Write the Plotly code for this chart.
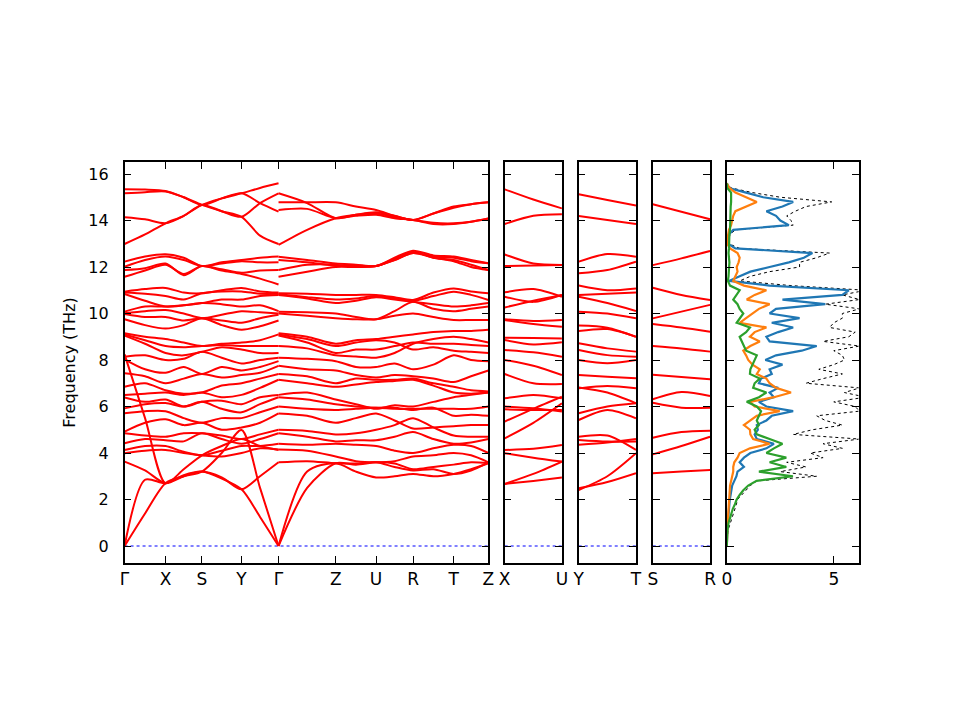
import plotly.graph_objects as go

# ---------------- data ----------------
kpos_main = [0, 41.3, 78, 118, 155.3, 213, 253.7, 291, 332, 367]
klabels_main = ["Γ", "X", "S", "Y", "Γ", "Z", "U", "R", "T", "Z"]

# piece A: Γ-X-S-Y-Γ  (values at Γ, mid, X, mid, S, mid, Y, mid, Γ)
bands_A = [
    [15.34, 15.33, 15.27, 15.0, 14.67, 14.95, 15.17, 15.4, 15.6],
    [15.17, 15.22, 15.25, 15.0, 14.67, 14.4, 14.16, 14.75, 15.17],
    [14.14, 14.05, 13.88, 14.2, 14.67, 14.95, 15.17, 14.75, 14.38],
    [12.99, 13.4, 13.88, 14.2, 14.67, 14.4, 14.16, 13.35, 12.99],
    [12.23, 12.45, 12.55, 12.4, 12.04, 12.2, 12.3, 12.4, 12.45],
    [12.01, 12.3, 12.45, 12.3, 12.04, 12.15, 12.25, 12.2, 12.2],
    [11.58, 11.85, 12.1, 11.7, 12.04, 11.9, 11.75, 11.85, 11.87],
    [11.87, 11.95, 12.15, 11.65, 12.04, 11.85, 11.7, 11.5, 11.25],
    [10.94, 11.05, 11.1, 10.9, 10.87, 11.0, 11.1, 10.95, 10.9],
    [10.90, 10.85, 10.75, 10.6, 10.87, 10.95, 10.95, 10.85, 10.85],
    [10.84, 10.55, 10.3, 10.35, 10.45, 10.6, 10.6, 10.75, 10.8],
    [10.08, 10.3, 10.3, 10.35, 10.45, 10.4, 10.3, 10.35, 10.1],
    [10.01, 10.1, 10.15, 10.0, 9.8, 9.95, 10.1, 10.05, 10.0],
    [9.98, 9.85, 9.85, 9.7, 9.8, 9.7, 9.6, 9.8, 9.95],
    [9.75, 9.5, 9.35, 9.5, 9.8, 9.5, 9.3, 9.45, 9.7],
    [9.15, 9.0, 8.9, 8.75, 8.6, 8.7, 8.75, 8.85, 9.1],
    [9.10, 8.85, 8.6, 8.55, 8.6, 8.65, 8.6, 8.6, 8.6],
    [9.05, 8.7, 8.3, 8.2, 8.35, 8.55, 8.45, 8.3, 8.3],
    [8.14, 8.2, 8.0, 8.05, 8.35, 8.1, 7.85, 8.0, 8.1],
    [8.03, 7.6, 7.45, 7.7, 7.4, 7.7, 7.55, 7.7, 7.95],
    [7.43, 7.3, 7.0, 7.2, 7.4, 7.25, 7.35, 7.45, 7.75],
    [6.85, 7.0, 6.7, 6.55, 6.6, 6.9, 7.0, 7.2, 7.4],
    [6.49, 6.55, 6.6, 6.5, 6.6, 6.4, 6.5, 6.8, 7.15],
    [6.39, 6.2, 6.3, 6.0, 6.2, 6.25, 6.1, 6.4, 6.5],
    [5.92, 6.1, 6.15, 6.0, 6.2, 5.9, 5.75, 6.1, 6.4],
    [5.71, 5.8, 5.8, 5.5, 5.3, 5.5, 5.5, 5.75, 6.0],
    [4.92, 5.3, 5.45, 5.2, 5.3, 5.0, 5.1, 5.3, 5.7],
    [4.85, 4.75, 4.7, 4.85, 4.85, 4.75, 4.6, 4.8, 5.0],
    [4.42, 4.6, 4.55, 4.5, 4.85, 4.6, 4.4, 4.6, 4.85],
    [4.13, 4.3, 4.3, 4.05, 3.9, 4.1, 4.3, 4.3, 4.4],
    [3.99, 4.1, 4.13, 4.0, 3.9, 3.85, 4.0, 4.2, 4.15],
    [3.63, 3.25, 2.70, 3.0, 3.2, 2.95, 2.44, 3.0, 3.6],
    [0.0, 2.85, 2.70, 3.05, 3.2, 2.9, 2.44, 1.25, 0.0],
    [0.0, 1.4, 2.70, 3.0, 3.2, 4.0, 4.99, 2.5, 0.0],
    [8.24, 5.5, 2.70, 3.3, 3.9, 4.3, 4.6, 4.3, 4.13],
]

# piece B: Γ-Z-U-R-T-Z  (values at Γ, mid, Z, mid, U, mid, R, mid, T, mid, Z)
bands_B = [
    [14.78, 14.78, 14.78, 14.6, 14.45, 14.2, 14.02, 14.3, 14.6, 14.7, 14.78],
    [15.17, 14.75, 14.1, 14.25, 14.3, 14.15, 14.02, 13.9, 13.88, 13.95, 14.09],
    [14.45, 14.5, 14.1, 14.2, 14.25, 14.1, 14.02, 13.85, 13.85, 13.95, 14.09],
    [12.95, 13.6, 14.1, 14.25, 14.35, 14.2, 14.02, 14.3, 14.55, 14.7, 14.78],
    [12.44, 12.3, 12.15, 12.1, 12.04, 12.4, 12.7, 12.5, 12.45, 12.3, 12.16],
    [12.3, 12.2, 12.05, 12.05, 12.04, 12.35, 12.65, 12.4, 12.3, 12.1, 11.87],
    [11.87, 12.1, 12.1, 12.0, 12.04, 12.3, 12.6, 12.45, 12.4, 12.25, 12.16],
    [11.58, 11.8, 12.0, 12.0, 12.04, 12.3, 12.6, 12.4, 12.25, 12.0, 11.87],
    [10.87, 10.85, 10.8, 10.8, 10.8, 10.7, 10.58, 10.9, 11.08, 10.95, 10.87],
    [10.84, 10.7, 10.6, 10.65, 10.75, 10.65, 10.55, 10.75, 10.94, 10.8, 10.58],
    [10.8, 10.65, 10.45, 10.55, 10.7, 10.6, 10.5, 10.4, 10.3, 10.35, 10.45],
    [10.08, 10.05, 10.0, 9.85, 9.75, 10.1, 10.5, 10.2, 10.1, 10.2, 10.3],
    [10.0, 9.9, 9.8, 9.75, 9.75, 9.9, 10.0, 9.85, 9.72, 9.72, 9.72],
    [9.15, 9.0, 8.7, 8.85, 8.9, 9.0, 9.1, 9.2, 9.25, 9.25, 9.3],
    [9.1, 8.9, 8.6, 8.75, 8.85, 8.75, 8.45, 8.55, 8.4, 8.35, 8.3],
    [9.05, 8.75, 8.3, 8.45, 8.45, 8.6, 8.75, 8.7, 8.7, 8.65, 8.6],
    [8.6, 8.5, 8.2, 8.15, 8.1, 8.3, 8.7, 8.9, 9.0, 8.9, 8.75],
    [8.1, 8.05, 7.95, 7.7, 7.7, 7.85, 7.6, 7.8, 8.2, 8.0, 7.95],
    [7.75, 7.6, 7.55, 7.35, 7.25, 7.35, 7.3, 7.2, 7.05, 7.3, 7.55],
    [7.4, 7.3, 7.0, 7.2, 7.15, 7.15, 7.2, 7.0, 6.85, 6.7, 6.65],
    [7.15, 7.0, 6.85, 6.95, 7.05, 7.1, 7.15, 6.9, 6.6, 6.55, 6.6],
    [6.5, 6.6, 6.3, 6.1, 5.9, 6.05, 6.0, 6.2, 6.4, 6.5, 6.6],
    [6.4, 6.3, 6.1, 6.0, 5.95, 5.95, 5.85, 5.95, 5.6, 5.65, 5.6],
    [6.0, 5.9, 5.85, 5.9, 5.95, 5.9, 5.9, 5.9, 5.9, 5.9, 6.0],
    [5.7, 5.6, 5.3, 5.5, 5.7, 5.4, 5.05, 5.1, 5.15, 5.2, 5.2],
    [5.0, 4.95, 4.8, 4.85, 5.0, 5.2, 5.5, 5.1, 4.75, 4.7, 4.7],
    [4.85, 4.7, 4.5, 4.55, 4.55, 4.7, 4.9, 4.6, 4.4, 4.45, 4.6],
    [4.4, 4.35, 4.4, 4.35, 4.3, 4.1, 4.0, 4.2, 4.35, 4.3, 4.0],
    [4.15, 4.1, 3.85, 3.65, 3.6, 3.65, 3.85, 3.9, 4.0, 3.9, 3.6],
    [3.6, 3.65, 3.56, 3.55, 3.6, 3.4, 3.25, 3.3, 3.1, 3.25, 3.6],
    [0.0, 3.2, 3.56, 3.2, 2.95, 3.0, 3.1, 3.0, 3.1, 3.3, 3.56],
    [0.0, 2.5, 3.56, 3.5, 3.6, 3.55, 3.3, 3.4, 3.5, 3.6, 3.56],
]

# side panels (values at start, middle, end)
klabels_XU = ["X", "U"]
bands_XU = [
    [15.34, 14.9, 14.52], [13.85, 14.2, 14.27], [12.54, 12.15, 12.09],
    [12.04, 12.06, 12.09], [10.91, 11.05, 10.72], [10.72, 10.5, 10.8],
    [10.26, 10.55, 10.8], [9.75, 9.68, 9.72], [9.72, 9.55, 9.43],
    [8.96, 8.95, 8.93], [8.86, 8.67, 8.76], [8.43, 8.33, 8.14],
    [8.0, 7.75, 7.35], [7.4, 7.0, 6.97], [6.35, 6.5, 6.35],
    [6.0, 5.92, 5.78], [5.88, 5.85, 5.85], [5.35, 5.9, 6.42],
    [4.63, 5.3, 6.14], [4.13, 4.18, 4.34], [3.99, 3.8, 3.63],
    [2.67, 2.8, 2.95], [2.67, 3.1, 3.63],
]
klabels_YT = ["Y", "T"]
bands_YT = [
    [15.13, 14.88, 14.64], [14.19, 14.02, 13.85], [12.23, 12.56, 12.44],
    [11.73, 11.87, 12.23], [11.2, 11.0, 11.08], [10.8, 10.85, 10.9],
    [10.72, 10.45, 10.11], [10.08, 10.0, 9.79], [9.48, 9.39, 9.0],
    [9.25, 9.33, 9.0], [8.72, 8.5, 8.36], [8.43, 8.21, 8.14],
    [8.0, 7.86, 8.0], [7.35, 7.28, 7.21], [6.78, 6.88, 6.78],
    [6.82, 6.6, 6.14], [5.71, 6.0, 6.14], [5.42, 5.85, 5.49],
    [4.7, 4.75, 4.13], [4.56, 4.49, 4.49], [4.35, 4.45, 4.6],
    [2.41, 3.0, 3.99], [2.48, 2.75, 3.13],
]
klabels_SR = ["S", "R"]
bands_SR = [
    [14.70, 14.38, 14.05], [12.08, 12.37, 12.69], [11.11, 10.8, 10.58],
    [9.79, 10.08, 10.37], [9.55, 9.4, 9.22], [8.6, 8.5, 8.36],
    [7.37, 7.27, 7.17], [6.31, 6.62, 6.45], [6.16, 5.95, 5.95],
    [4.66, 4.9, 4.96], [3.94, 4.3, 4.70], [3.13, 3.2, 3.27],
]

# DOS (frequency grid in THz)
dos_freq = [round(0.2 * i, 1) for i in range(79)]
dos_total = [0, 0.01, 0.02, 0.05, 0.1, 0.17, 0.25, 0.32, 0.4, 0.45, 0.5, 0.7,
             0.9, 1.1, 1.4, 4.2, 2.5, 3.7, 2.8, 4.5, 3.9, 5.4, 4.5, 6.2, 3.1, 4.0,
             5.4, 4.6, 4.2, 6.2, 6.0, 5.0, 6.5, 5.5, 6.2, 3.7, 4.5, 5.4, 4.3, 5.0,
             5.5, 5.4, 5.0, 6.2, 4.5, 5.7, 6.0, 4.8, 5.0, 5.4, 5.4, 6.2, 4.6, 6.2,
             5.4, 6.5, 3.0, 0.6, 1.1, 2.0, 3.4, 3.4, 4.2, 4.8, 0.6, 0.1, 0.1, 0.15,
             0.4, 3.1, 3.0, 2.8, 3.2, 3.7, 4.9, 2.5, 1.2, 0.2, 0]
dos_blue = [0, 0.0, 0.01, 0.02, 0.03, 0.05, 0.06, 0.08, 0.1, 0.12, 0.14, 0.17,
            0.2, 0.25, 0.35, 0.45, 0.5, 0.8, 0.6, 0.8, 1.1, 1.85, 2.2, 1.4, 1.3, 1.45,
            1.4, 1.85, 2.1, 3.1, 1.85, 1.5, 2.2, 2.0, 2.4, 1.5, 1.6, 2.1, 2.0, 2.6,
            1.8, 2.3, 3.5, 4.2, 2.0, 1.85, 2.4, 3.1, 2.1, 3.4, 2.0, 2.3, 4.6, 2.6,
            5.4, 5.7, 2.0, 0.1, 0.6, 1.1, 2.0, 2.9, 3.6, 4.0, 0.4, 0.05, 0.05, 0.1,
            0.3, 2.9, 2.5, 2.3, 1.85, 2.6, 3.1, 1.7, 0.9, 0.1, 0]
dos_orange = [0, 0.0, 0.01, 0.02, 0.03, 0.04, 0.05, 0.06, 0.07, 0.08, 0.09, 0.1,
              0.12, 0.15, 0.2, 0.25, 0.3, 0.3, 0.35, 0.5, 0.6, 1.08, 2.0, 1.23, 1.1,
              1.08, 0.8, 1.1, 1.4, 2.47, 1.3, 1.08, 2.2, 3.0, 2.3, 2.0, 1.85, 1.4,
              1.54, 1.2, 1.0, 0.9, 0.77, 1.1, 1.54, 1.08, 1.3, 1.85, 0.6, 0.9, 1.2,
              1.5, 2.0, 0.93, 1.3, 1.85, 0.8, 0.3, 0.4, 0.5, 0.46, 0.55, 0.6, 0.5,
              0.15, 0.02, 0.03, 0.05, 0.1, 0.2, 0.25, 0.3, 0.4, 0.9, 1.4, 0.9, 0.4,
              0.12, 0]
dos_green = [0, 0.0, 0.0, 0.02, 0.05, 0.08, 0.15, 0.2, 0.28, 0.38, 0.46, 0.6,
             0.77, 1.0, 1.39, 3.09, 1.5, 2.78, 2.0, 2.78, 1.85, 2.2, 2.6, 2.0, 1.4,
             1.3, 1.5, 1.4, 1.5, 1.6, 1.4, 0.93, 1.5, 1.85, 1.23, 1.3, 1.54, 1.08,
             1.1, 1.2, 1.3, 1.4, 0.9, 0.8, 0.7, 0.6, 0.9, 1.08, 0.46, 0.6, 0.77,
             0.6, 0.5, 0.3, 0.45, 0.6, 0.15, 0.05, 0.08, 0.1, 0.1, 0.12, 0.1, 0.08,
             0.1, 0.1, 0.12, 0.12, 0.15, 0.15, 0.15, 0.15, 0.18, 0.18, 0.2, 0.2,
             0.2, 0.02, 0]

freq_ticks = [0, 2, 4, 6, 8, 10, 12, 14, 16]
dos_ticks = [0, 5]

# ---------------- figure ----------------
OFF = 8  # page body margin in the browser
W, H = 960 - 2 * OFF, 720 - 2 * OFF


def dom_x(a, b):
    return [(a - OFF) / W, (b - OFF) / W]


ydom = [1 - (563 - OFF) / H, 1 - (162 - OFF) / H]
yrange = [-0.731, 16.516]


def nodes(k):
    out = []
    for i in range(len(k) - 1):
        out += [k[i], (k[i] + k[i + 1]) / 2]
    out.append(k[-1])
    return out


def band_trace(xn, bands, xa, ya):
    xs, ys = [], []
    for b in bands:
        xs += list(xn) + [None]
        ys += list(b) + [None]
    return go.Scatter(x=xs, y=ys, mode="lines", xaxis=xa, yaxis=ya,
                      line=dict(color="#ff0000", width=2, shape="spline", smoothing=0.8),
                      hoverinfo="skip", showlegend=False)


def zero_trace(x0, x1, xa, ya):
    return go.Scatter(x=[x0, x1], y=[0, 0], mode="lines", xaxis=xa, yaxis=ya,
                      line=dict(color="blue", width=1, dash="dot"),
                      hoverinfo="skip", showlegend=False)


fig = go.Figure()
xA = nodes(kpos_main[0:5])
xB = nodes(kpos_main[4:10])
fig.add_trace(zero_trace(kpos_main[0], kpos_main[-1], "x", "y"))
fig.add_trace(band_trace(xA, bands_A, "x", "y"))
fig.add_trace(band_trace(xB, bands_B, "x", "y"))

side = [(bands_XU, "x2", "y2"), (bands_YT, "x3", "y3"), (bands_SR, "x4", "y4")]
for bands, xa, ya in side:
    fig.add_trace(zero_trace(0, 1, xa, ya))
    fig.add_trace(band_trace([0, 0.5, 1], bands, xa, ya))

for vals, col, width, dash in [(dos_total, "black", 1, "dot"),
                               (dos_blue, "#1f77b4", 2.2, "solid"),
                               (dos_orange, "#ff7f0e", 2.2, "solid"),
                               (dos_green, "#2ca02c", 2.2, "solid")]:
    fig.add_trace(go.Scatter(x=vals, y=dos_freq, mode="lines", xaxis="x5", yaxis="y5",
                             line=dict(color=col, width=width, dash=dash),
                             hoverinfo="skip", showlegend=False))

font = dict(family="DejaVu Sans, Arial, sans-serif", size=16, color="black")
axis_common = dict(showline=True, linecolor="black", linewidth=1.5, mirror="ticks",
                   ticks="inside", ticklen=7, tickwidth=1.3, tickcolor="black",
                   showgrid=False, zeroline=False, tickfont=dict(size=17))

layout = dict(width=W, height=H, margin=dict(l=0, r=0, t=0, b=0),
              paper_bgcolor="white", plot_bgcolor="white", font=font, showlegend=False)

layout["xaxis"] = dict(axis_common, domain=dom_x(120, 488.5), range=[kpos_main[0], kpos_main[-1]],
                       tickmode="array", tickvals=kpos_main, ticktext=klabels_main, anchor="y")
layout["yaxis"] = dict(axis_common, domain=ydom, range=yrange, tickmode="array",
                       tickvals=freq_ticks, anchor="x", tickfont=dict(size=16),
                       ticklabelstandoff=11,
                       title=dict(text="Frequency (THz)", font=dict(size=16), standoff=9))

side_dom = [(505, 563, klabels_XU), (580, 638, klabels_YT), (655, 713, klabels_SR)]
for i, (a, b, labs) in enumerate(side_dom, start=2):
    layout[f"xaxis{i}"] = dict(axis_common, domain=dom_x(a, b), range=[0, 1], tickmode="array",
                               tickvals=[0, 1], ticktext=labs, anchor=f"y{i}")
    layout[f"yaxis{i}"] = dict(axis_common, domain=ydom, range=yrange, tickmode="array",
                               tickvals=freq_ticks, showticklabels=False, anchor=f"x{i}")

layout["xaxis5"] = dict(axis_common, domain=dom_x(730, 863.5), range=[0, 6.16], tickmode="array",
                        tickvals=dos_ticks, ticktext=[str(t) for t in dos_ticks], anchor="y5")
layout["yaxis5"] = dict(axis_common, domain=ydom, range=yrange, tickmode="array",
                        tickvals=freq_ticks, showticklabels=False, anchor="x5")

fig.update_layout(**layout)
fig.write_html("out.html")
